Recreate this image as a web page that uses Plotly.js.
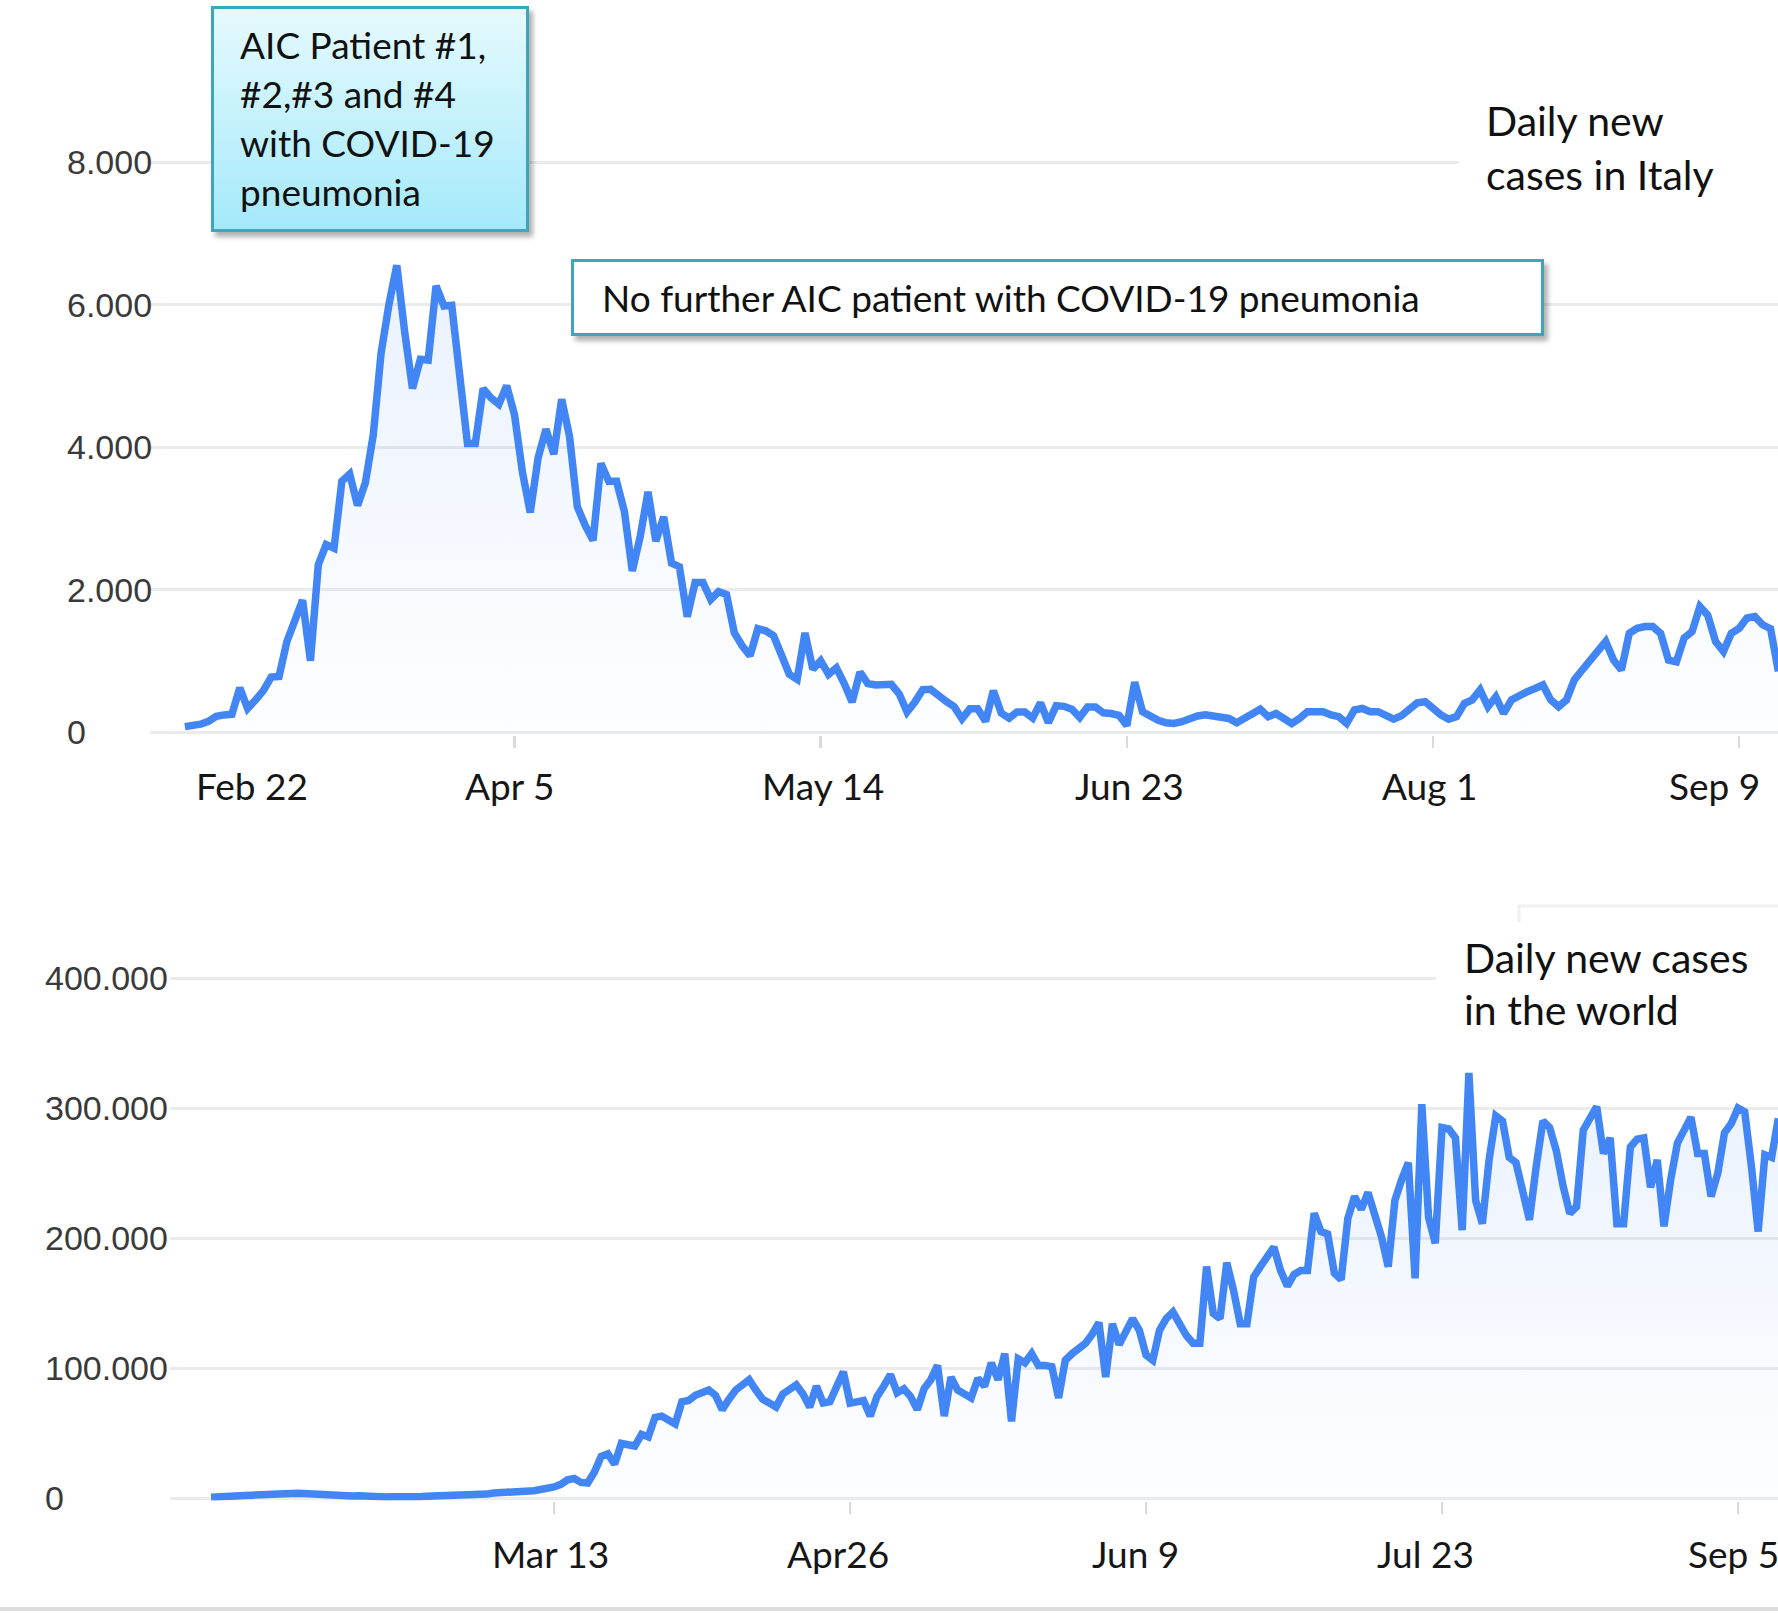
<!DOCTYPE html>
<html>
<head>
<meta charset="utf-8">
<script src="https://cdn.plot.ly/plotly-3.0.1.min.js"></script>
<style>
  html, body { margin: 0; padding: 0; background: #fff; }
  #chart { width: 1778px; height: 1613px; }
</style>
</head>
<body>
<div id="chart"></div>
<script>
// Italy: daily new cases, one value per day, first value is Feb 23 (day 1 after Feb 22)
var italyFirstDay = 1;
var italyCases = [
  75, 80, 110, 150, 220, 240, 250, 620, 330, 450,
  580, 770, 780, 1270, 1560, 1850, 1000, 2350, 2630, 2580,
  3520, 3620, 3180, 3500, 4170, 5320, 6000, 6550, 5620, 4820,
  5230, 5220, 6260, 5980, 5990, 5050, 4050, 4050, 4820, 4690,
  4600, 4860, 4450, 3650, 3080, 3850, 4250, 3900, 4670, 4150,
  3160, 2900, 2690, 3770, 3520, 3520, 3090, 2260, 2740, 3370,
  2680, 3020, 2370, 2320, 1620, 2100, 2100, 1860, 1970, 1930,
  1390, 1210, 1070, 1450, 1420, 1350, 1090, 810, 740, 1390,
  880, 1000, 810, 900, 680, 420, 840, 680, 660, 660,
  670, 535, 280, 420, 595, 600, 530, 430, 355, 185,
  325, 325, 150, 580, 265, 195, 280, 280, 195, 410,
  130, 370, 360, 320, 205, 350, 350, 270, 260, 235,
  90, 700, 285, 215, 165, 130, 120, 145, 190, 225,
  240, 225, 215, 190, 130, 190, 240, 320, 215, 260,
  190, 120, 190, 285, 285, 285, 240, 215, 120, 310,
  330, 285, 285, 240, 180, 230, 320, 410, 425, 330,
  240, 180, 215, 400, 450, 590, 355, 495, 260, 450,
  520, 565, 610, 660, 450, 355, 450, 730, 870, 1010,
  1130, 1270, 1010, 870, 1385, 1455, 1480, 1480, 1385, 1010,
  985, 1320, 1410, 1760, 1640, 1270, 1130, 1385, 1455, 1600,
  1620, 1505, 1450, 850
];

// World: daily new cases in thousands, first value is Jan 22 (day 0)
var worldFirstDay = 0;
var worldCases = [
  0.6, 0.6, 0.8, 1.0, 1.5, 2.0, 2.2, 2.6, 2.8, 3.2,
  3.9, 3.8, 3.4, 3.6, 3.2, 4.2, 3.2, 2.6, 2.2, 2.0,
  1.8, 1.6, 1.8, 1.2, 0.8, 1.0, 0.8, 0.9, 0.6, 0.7,
  0.8, 1.0, 1.3, 1.4, 1.6, 1.8, 2.0, 2.4, 2.2, 2.8,
  2.6, 3.0, 3.8, 4.0, 3.9, 4.5, 4.2, 4.9, 5.6, 6.5,
  7.3, 8.5, 10.5, 14, 15, 12, 11.5, 20, 32, 34,
  26, 42, 41, 40, 49, 47, 62, 63, 60, 57,
  74, 75, 79, 81, 83, 79, 68, 76, 83, 87,
  91, 83, 76, 73, 70, 80, 84, 87, 80, 70,
  86, 73, 74, 85, 97, 73, 74, 75, 63, 78,
  86, 95, 81, 84, 78, 68, 84, 91, 102, 63,
  93, 83, 80, 77, 92, 86, 104, 91, 111, 59,
  107, 104, 111, 102, 102, 101, 77, 106, 111, 115,
  119, 126, 135, 93, 134, 118, 128, 138, 129, 110,
  106, 129, 138, 143, 134, 125, 119, 119, 178, 142,
  138, 181, 160, 134, 134, 170, 178, 186, 193, 175,
  163, 172, 175, 175, 219, 205, 203, 173, 168, 215,
  232, 222, 235, 218, 201, 178, 229, 245, 258, 169,
  303, 216, 196, 285, 284, 277, 206, 327, 229, 211,
  260, 294, 290, 262, 258, 236, 214, 255, 290, 285,
  267, 240, 219, 224, 283, 292, 301, 265, 277, 211,
  211, 270, 276, 277, 239, 260, 209, 245, 273, 283,
  293, 265, 265, 232, 250, 281, 288, 300, 297, 255,
  205, 264, 262, 292
];

// axis ticks and labels
var italyYTicks = [0, 2000, 4000, 6000, 8000];
var italyYLabels = ['0', '2.000', '4.000', '6.000', '8.000'];
var italyTickDays = [43, 82, 121, 160, 199];
var italyLabelDays = [9.5, 42.3, 82.3, 121.3, 159.5, 195.9];
var italyLabels = ['Feb 22', 'Apr 5', 'May 14', 'Jun 23', 'Aug 1', 'Sep 9'];

var worldYTicks = [0, 100, 200, 300, 400];
var worldYLabels = ['0', '100.000', '200.000', '300.000', '400.000'];
var worldTickDays = [51, 95, 139, 183, 227];
var worldLabelDays = [50.5, 93.2, 137.4, 180.5, 226.3];
var worldLabels = ['Mar 13', 'Apr26', 'Jun 9', 'Jul 23', 'Sep 5'];

var aicLines = ['AIC Patient #1,', '#2,#3 and #4', 'with COVID-19', 'pneumonia'];
var noFurtherText = 'No further AIC patient with COVID-19 pneumonia';
var italyTitle = ['Daily new', 'cases in Italy'];
var worldTitle = ['Daily new cases', 'in the world'];

var W = 1778, H = 1613;
function px(v) { return v / W; }
function py(v) { return 1 - v / H; }

var blue = '#4285f4';
var textFont = { family: 'Lato, "Open Sans", sans-serif', size: 37, color: '#111111' };
var titleFont = { family: 'Lato, "Open Sans", sans-serif', size: 41, color: '#111111' };
var tickFont = { family: '"Liberation Sans", Arial, sans-serif', size: 34, color: '#3a3a3a' };
var dateFont = { family: 'Lato, "Open Sans", sans-serif', size: 37, color: '#161616' };

function dayIndex(arr, first) {
  return arr.map(function (v, i) { return first + i; });
}

function caseTrace(x, y, xa, ya) {
  return {
    x: x, y: y, xaxis: xa, yaxis: ya,
    type: 'scatter', mode: 'lines',
    line: { color: blue, width: 7.5 },
    fill: 'tozeroy',
    fillcolor: 'rgba(66,133,244,0.05)',
    fillgradient: {
      type: 'vertical',
      colorscale: [[0, 'rgba(66,133,244,0.01)'], [1, 'rgba(66,133,244,0.11)']]
    },
    hoverinfo: 'skip'
  };
}

var data = [
  caseTrace(dayIndex(italyCases, italyFirstDay), italyCases, 'x', 'y'),
  caseTrace(dayIndex(worldCases, worldFirstDay), worldCases, 'x2', 'y2')
];

function boxImage(w, h, defs, fill) {
  var svg = '<svg xmlns="http://www.w3.org/2000/svg" width="' + (w + 10) + '" height="' + (h + 10) + '">' +
    '<defs>' + defs + '<filter id="s" x="-10%" y="-20%" width="130%" height="160%"><feGaussianBlur stdDeviation="2.5"/></filter></defs>' +
    '<rect x="4" y="5" width="' + w + '" height="' + h + '" fill="#000" opacity="0.3" filter="url(#s)"/>' +
    '<rect x="1.5" y="1.5" width="' + (w - 3) + '" height="' + (h - 3) + '" fill="' + fill + '" stroke="#3fa5bf" stroke-width="3"/>' +
    '</svg>';
  return 'data:image/svg+xml;charset=utf-8,' + encodeURIComponent(svg);
}

var gradDef = '<linearGradient id="g" x1="0" y1="0" x2="0" y2="1">' +
  '<stop offset="0" stop-color="#e6fafe"/><stop offset="1" stop-color="#a4e9fa"/></linearGradient>';

var images = [
  { source: boxImage(318, 226, gradDef, 'url(#g)'), xref: 'paper', yref: 'paper',
    x: px(211), y: py(6), sizex: 328 / W, sizey: 236 / H,
    xanchor: 'left', yanchor: 'top', sizing: 'stretch', layer: 'above' },
  { source: boxImage(973, 77, '', '#ffffff'), xref: 'paper', yref: 'paper',
    x: px(571), y: py(259), sizex: 983 / W, sizey: 87 / H,
    xanchor: 'left', yanchor: 'top', sizing: 'stretch', layer: 'above' }
];

var shapes = [
  // white patches behind the corner titles
  { type: 'rect', xref: 'paper', yref: 'paper', x0: px(1459), x1: 1, y0: py(95), y1: py(205),
    fillcolor: '#ffffff', line: { width: 0 }, layer: 'above' },
  { type: 'rect', xref: 'paper', yref: 'paper', x0: px(1436), x1: 1, y0: py(928), y1: py(1040),
    fillcolor: '#ffffff', line: { width: 0 }, layer: 'above' },
  { type: 'path', xref: 'paper', yref: 'paper',
    path: 'M ' + px(1519) + ' ' + py(922) + ' L ' + px(1519) + ' ' + py(906) + ' L 1 ' + py(906),
    line: { color: '#f0f0f0', width: 3 }, layer: 'above' },
  { type: 'line', xref: 'paper', yref: 'paper', x0: 0, x1: 1, y0: py(1609), y1: py(1609),
    line: { color: '#dddddd', width: 4 }, layer: 'above' }
];

var annotations = [];
function addText(text, x, y, xref, yref, anchor, font) {
  annotations.push({ text: text, x: x, y: y, xref: xref, yref: yref,
    xanchor: anchor, yanchor: 'middle', showarrow: false, font: font });
}

italyYTicks.forEach(function (v, i) { addText(italyYLabels[i], px(65), v, 'paper', 'y', 'left', tickFont); });
worldYTicks.forEach(function (v, i) { addText(worldYLabels[i], px(43), v, 'paper', 'y2', 'left', tickFont); });
italyLabelDays.forEach(function (d, i) { addText(italyLabels[i], d, py(785), 'x', 'paper', 'center', dateFont); });
worldLabelDays.forEach(function (d, i) { addText(worldLabels[i], d, py(1553), 'x2', 'paper', 'center', dateFont); });

[45, 94, 143, 192].forEach(function (y, i) { addText(aicLines[i], px(238), py(y), 'paper', 'paper', 'left', textFont); });
addText(noFurtherText, px(600), py(298), 'paper', 'paper', 'left', textFont);
[121, 175].forEach(function (y, i) { addText(italyTitle[i], px(1484), py(y), 'paper', 'paper', 'left', titleFont); });
[957, 1009].forEach(function (y, i) { addText(worldTitle[i], px(1462), py(y), 'paper', 'paper', 'left', titleFont); });

function xAxis(domainLeft, range, ticks, anchor) {
  return {
    domain: [domainLeft, 1], range: range, anchor: anchor,
    tickvals: ticks, showticklabels: false,
    ticks: 'outside', ticklen: 12, tickwidth: 2.5, tickcolor: '#dadada',
    showgrid: false, zeroline: false, showline: false, fixedrange: true
  };
}
function yAxis(domain, range, ticks, anchor) {
  return {
    domain: domain, range: range, anchor: anchor,
    tickvals: ticks, showticklabels: false, ticks: '',
    showgrid: true, gridcolor: '#ebebeb', gridwidth: 3,
    zeroline: false, showline: false, fixedrange: true
  };
}

var layout = {
  width: W, height: H,
  margin: { l: 0, r: 0, t: 0, b: 0 },
  paper_bgcolor: '#ffffff', plot_bgcolor: '#ffffff',
  showlegend: false,
  xaxis: xAxis(px(150), [-3.44, 203.95], italyTickDays, 'y'),
  yaxis: yAxis([py(734.85), py(126.4)], [-40, 8500], italyYTicks, 'x'),
  xaxis2: xAxis(px(170), [-6.1, 232.95], worldTickDays, 'y2'),
  yaxis2: yAxis([py(1500.6), py(939)], [-2, 430], worldYTicks, 'x2'),
  images: images,
  shapes: shapes,
  annotations: annotations
};

Plotly.newPlot('chart', data, layout, { staticPlot: true, displayModeBar: false });
</script>
</body>
</html>
